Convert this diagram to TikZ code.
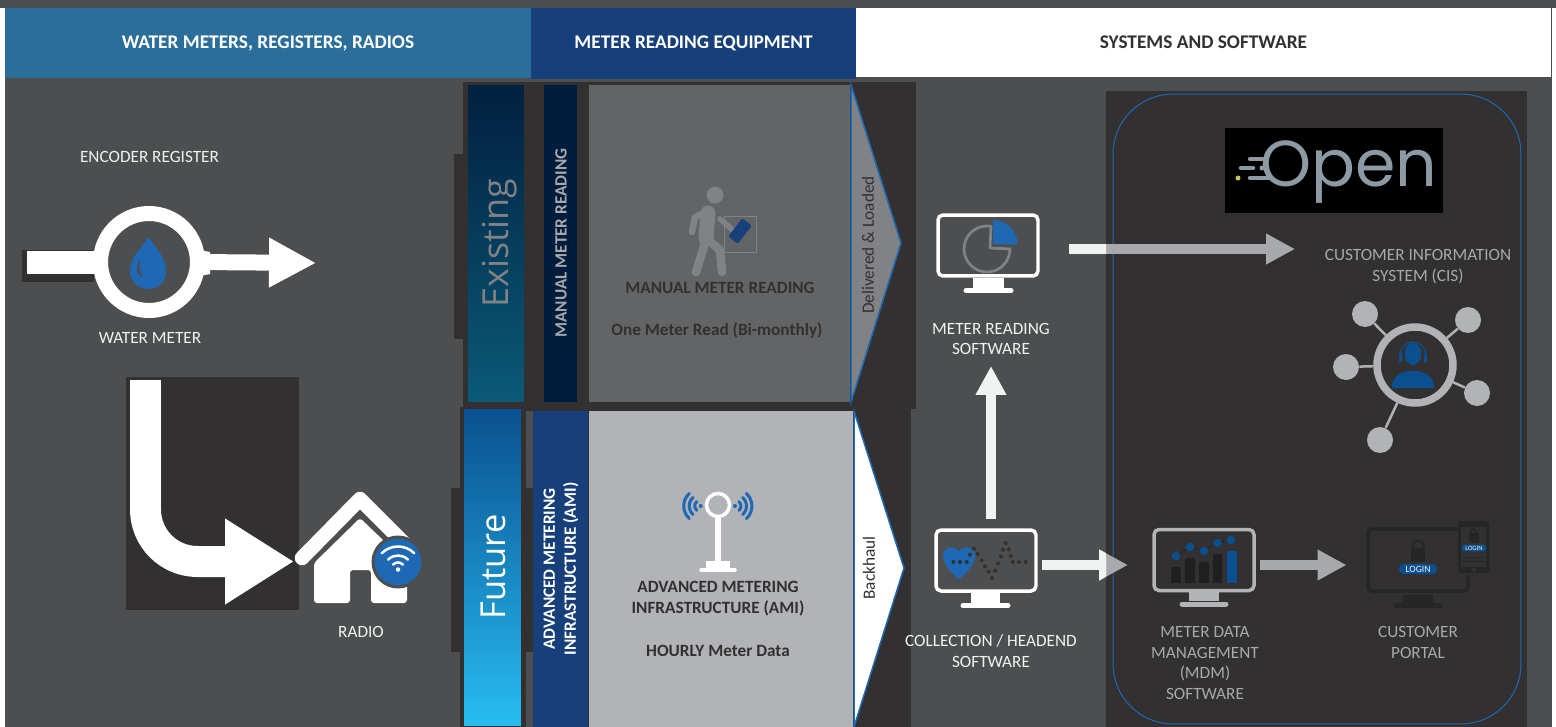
\documentclass[tikz,border=0pt]{standalone}
\usepackage{fontspec}
\usepackage{xcolor}
\setmainfont{Carlito}
\newfontfamily\openfont{Poppins}
\newfontfamily\thinfont{Open Sans}
\usetikzlibrary{arrows.meta, positioning, calc}
\definecolor{slate-bg}{HTML}{4D4E50}
\definecolor{panel-dark}{HTML}{323031}
\definecolor{water-blue}{HTML}{2B6E9A}
\definecolor{navy-blue}{HTML}{173F79}
\definecolor{icon-blue}{HTML}{1F69B4}
\definecolor{deep-blue}{HTML}{0A5090}
\definecolor{soft-white}{HTML}{F1F2F2}
\definecolor{mid-gray}{HTML}{808285}
\definecolor{light-gray}{HTML}{B1B3B6}
\definecolor{arrow-gray}{HTML}{A7A9AC}
\definecolor{box-gray}{HTML}{636466}
\definecolor{portal-dark}{HTML}{262627}
\definecolor{logo-gray}{HTML}{8D9AA3}
\definecolor{old-top}{HTML}{02203F}
\definecolor{old-bottom}{HTML}{0A5A78}
\definecolor{old-bar}{HTML}{021C3C}
\definecolor{new-bottom}{HTML}{27BDF0}

\begin{document}
\begin{tikzpicture}[
    x=0.02cm, y=-0.02cm,
    box/.style={rectangle, inner sep=0pt, outer sep=0pt},
    banner/.style={box, minimum height=1.4cm, font=\fontsize{11}{12}\selectfont\bfseries},
    caption/.style={inner sep=0pt, align=center, text=soft-white, font=\fontsize{9.8}{11.8}\selectfont},
    graycaption/.style={caption, text=arrow-gray},
    boxtext/.style={inner sep=0pt, align=center, text=panel-dark, font=\fontsize{9.8}{12}\selectfont\bfseries},
    sidetext/.style={inner sep=0pt, align=center, rotate=90, font=\fontsize{9.8}{12}\selectfont\bfseries},
    screen/.style={box, draw=white, line width=0.7mm, rounded corners=0.1cm, minimum width=2cm, minimum height=1.22cm},
    blockarrow/.style={line width=2.1mm, -{Triangle[length=5.8mm,width=5.8mm]}},
    blueline/.style={draw=icon-blue, line width=0.6mm, line cap=round}
]
\path[fill=white, use as bounding box] (0,0) rectangle (1556,727);
\node[box, fill=slate-bg, minimum width=30.94cm, minimum height=14.54cm] (body) at (778.5,363.5) {};
\fill[slate-bg] (0,0) rectangle (1556,8);

% Banners
\node[banner, fill=water-blue, text=white, minimum width=10.52cm] (metersbanner) at (268,43) {WATER METERS, REGISTERS, RADIOS};
\node[banner, fill=navy-blue, text=white, minimum width=6.5cm, minimum height=1.42cm] (equipbanner) at (693.5,43.5) {METER READING EQUIPMENT};
\node[banner, fill=white, text=panel-dark, minimum width=13.9cm, minimum height=1.38cm] (systemsbanner) at (1203.5,42.5) {SYSTEMS AND SOFTWARE};

% Water meter
\node[caption] (encoderlabel) at (149.5,157) {ENCODER REGISTER};
\node[box, fill=panel-dark, minimum width=1.44cm, minimum height=0.64cm] (pipeshadow) at (58,266) {};
\node[box, fill=white, minimum width=1.4cm, minimum height=0.46cm] (pipe) at (62,262.5) {};
\node[circle, draw=white, line width=3mm, inner sep=0pt, outer sep=0pt, minimum size=1.94cm] (meterring) at (149,262) {};
\fill[white] (200,250) -- (210,252) -- (210,274) -- (200,276) -- cycle;
\coordinate (meterout) at (316,263);
\draw[line width=3.2mm, white, -{Triangle[length=9.4mm,width=9.4mm]}] (meterring.east) -- (meterout);
\fill[icon-blue] (148.5,237) .. controls (140,250) and (130,258) .. (130,271) .. controls (130,283) and (140,289) .. (148.5,289) .. controls (157,289) and (166,283) .. (166,271) .. controls (166,258) and (157,250) .. (148.5,237) -- cycle;
\fill[slate-bg] (140,259) .. controls (135,268) and (136,276) .. (143,277) .. controls (139,272) and (139,266) .. (140,259) -- cycle;
\node[caption] (meterlabel) at (150,338) {WATER METER};

% Radio
\node[box, fill=panel-dark, minimum width=3.46cm, minimum height=4.66cm] (bendbox) at (212.5,493.5) {};
\coordinate (bendstart) at (145.5,380);
\coordinate (bendend) at (294,561.5);
\draw[white, line width=6.2mm, rounded corners=1.04cm, -{Triangle[length=13.8mm,width=16.2mm]}] (bendstart) -- (bendstart |- bendend) -- (bendend);
\fill[white, rounded corners=0.06cm] (360,518) -- (314,563) -- (314,603) -- (350,603) -- (350,570) -- (371,570) -- (371,603) -- (407,603) -- (407,563) -- cycle;
\draw[white, line width=2.9mm, line cap=round, line join=round] (302,558) -- (360,499) -- (412,551);
\node[circle, fill=icon-blue, draw=slate-bg, line width=0.6mm, minimum size=1cm, inner sep=0pt] (wifidisc) at (398,562) {};
\fill[white] (398,569.5) circle[radius=0.045cm];
\foreach \r in {0.14,0.28,0.46}
  \draw[white, line width=0.5mm, line cap=round] ([shift={(45:\r cm)}]398,569.5) arc[start angle=45, end angle=135, radius=\r cm];
\node[caption] (radiolabel) at (361,632) {RADIO};

% Future panel
\node[box, fill=panel-dark, minimum width=0.2cm, minimum height=3.28cm] (futuretab) at (456,570) {};
\node[box, fill=panel-dark, minimum width=9.02cm, minimum height=6.4cm] (futurepanel) at (685.5,567) {};
\fill[slate-bg] (526,411) rectangle (533,488) (526,652) rectangle (533,727);
\node[box, top color=deep-blue, bottom color=new-bottom, minimum width=1.14cm, minimum height=6.34cm] (futurebar) at (492.5,567.5) {};
\node[inner sep=0pt, rotate=90, text=white, font=\fontsize{19.6}{24}\thinfont] (futuretext) at (493,567) {Future};
\node[box, fill=navy-blue, minimum width=1.1cm, minimum height=6.32cm] (amibar) at (560.5,569) {};
\node[sidetext, text=white] (amiside) at (561,569) {ADVANCED METERING\\INFRASTRUCTURE (AMI)};
\node[box, fill=light-gray, minimum width=5.28cm, minimum height=6.32cm] (amibox) at (721,569) {};
\draw[fill=white, draw=icon-blue, line width=0.3mm] (854,411) -- (904,568) -- (854,727) -- cycle;
\node[inner sep=0pt, rotate=90, text=panel-dark, font=\fontsize{9.8}{11}\selectfont] (backhaul) at (869,568) {Backhaul};

% Tower
\node[circle, draw=white, line width=0.7mm, inner sep=0pt, minimum size=0.46cm] (towerhead) at (718,505) {};
\draw[white, line width=1.1mm] (towerhead.south) -- (718,563);
\fill[white] (706,561) rectangle (730,569);
\draw[white, line width=0.7mm, line cap=round] (701,570) -- (735,570);
\foreach \c/\s in {700.7/180,735/0} {
  \fill[icon-blue] (\c,506) circle[radius=0.04cm];
  \foreach \r in {0.12,0.23,0.34}
    \draw[blueline] ([shift={(\s-48:\r cm)}]\c,506) arc[start angle=\s-48, end angle=\s+48, radius=\r cm];
}
\node[boxtext, text=panel-dark] (amititle) at (718,598.5) {ADVANCED METERING\\INFRASTRUCTURE (AMI)};
\node[boxtext] (amirate) at (718,651) {HOURLY Meter Data};

% Existing panel
\node[box, fill=panel-dark, minimum width=0.2cm, minimum height=3.7cm] (existingtab) at (459,246.5) {};
\node[box, fill=panel-dark, minimum width=9.06cm, minimum height=6.54cm] (existingpanel) at (689.5,245.5) {};
\node[box, top color=old-top, bottom color=old-bottom, minimum width=1.12cm, minimum height=6.34cm] (existingbar) at (496,243.5) {};
\node[inner sep=0pt, rotate=90, text=mid-gray, font=\fontsize{20.4}{24}\thinfont] (existingtext) at (500,243) {Existing};
\node[box, fill=old-bar, minimum width=0.66cm, minimum height=6.34cm] (manualbar) at (560.5,243.5) {};
\node[sidetext, text=arrow-gray] (manualside) at (561,243) {MANUAL METER READING};
\node[box, fill=box-gray, minimum width=5.22cm, minimum height=6.34cm] (manualbox) at (719.5,243.5) {};
\draw[fill=mid-gray, draw=icon-blue, line width=0.3mm] (851,85) -- (901,243) -- (851,402) -- cycle;
\node[inner sep=0pt, rotate=90, text=panel-dark, font=\fontsize{9.8}{11}\selectfont] (delivered) at (868,245) {Delivered \& Loaded};

% Walker
\fill[mid-gray] (715,195) circle[radius=0.17cm];
\draw[mid-gray, line width=1.1mm, line cap=round, line join=round] (720,219) -- (736,233);
\draw[mid-gray, line width=1.3mm, line cap=round, line join=round] (711,210) -- (695,217) -- (692,232);
\draw[mid-gray, line width=3mm, line cap=round, line join=round] (708,213) -- (706,238);
\draw[mid-gray, line width=1.7mm, line cap=round, line join=round] (705,243) -- (696,272);
\draw[mid-gray, line width=1.7mm, line cap=round, line join=round] (708,240) -- (720,250) -- (722,272);
\draw[mid-gray, line width=0.1mm] (724,216) rectangle (756,252);
\node[box, fill=navy-blue, rounded corners=0.03cm, rotate=52, minimum width=0.46cm, minimum height=0.24cm] (handset) at (740,231) {};
\node[boxtext] (manualtitle) at (720,288) {MANUAL METER READING};
\node[boxtext] (manualrate) at (717,330) {One Meter Read (Bi-monthly)};

% Systems panel
\node[box, fill=panel-dark, minimum width=8.42cm, minimum height=12.72cm] (systemspanel) at (1316.5,409) {};
\node[box, draw=icon-blue, line width=0.2mm, rounded corners=1.2cm, minimum width=8.16cm, minimum height=12.6cm] (systemsframe) at (1317,409) {};

% Open logo
\node[box, fill=black, minimum width=4.36cm, minimum height=1.7cm] (logobox) at (1334,170.5) {};
\node[inner sep=0pt, anchor=base west, text=logo-gray, font=\fontsize{37}{40}\openfont] (logotext) at (1260,186) {Open};
\draw[logo-gray, line width=0.9mm, line cap=round] (1250,159) -- (1262,159) (1241,168) -- (1253,168) (1250,178) -- (1270,178);
\fill[logo-gray] (1262,168) circle[radius=0.05cm];
\fill[yellow!50!gray] (1238,178) circle[radius=0.05cm];

% Meter reading software
\node[screen] (readscreen) at (988,245.5) {};
\fill[white] (973,278) rectangle (1004,288);
\draw[white, line width=1mm, line cap=round] (966,290.5) -- (1011,290.5);
\draw[mid-gray, line width=0.55mm, line join=round] ([shift={(80:0.46cm)}]987,249) arc[start angle=80, end angle=360, radius=0.46cm] -- (990,248) -- cycle;
\fill[icon-blue, line join=round] (993,244) -- (993,220) arc[start angle=90, end angle=0, radius=0.49cm] -- cycle;
\node[caption] (readlabel) at (991,339) {METER READING\\SOFTWARE};

% Collection software
\node[screen] (collectscreen) at (986,560.5) {};
\fill[white] (971,593) rectangle (1000,603);
\draw[white, line width=1mm, line cap=round] (963,605.5) -- (1008,605.5);
\fill[icon-blue] (959,579) .. controls (950,572) and (943,563) .. (943,556) .. controls (943,547) and (955,544) .. (959,552) .. controls (963,544) and (975,547) .. (975,556) .. controls (975,563) and (968,572) .. (959,579) -- cycle;
\foreach \a/\b in {953.3/562,960/562,966.7/562,970/554.7,974/548.7,977.7/554,981.7/560.3,985/566.3,988.7/571.7,992/578,995.3/570.7,998/563.7,1001/556.3,1003/549.7,1005.7/543,1008.7/549.3,1010.7/556,1012.7/562,1019/562,1025.7/562}
  \fill[panel-dark] (\a,\b) circle[radius=0.04cm];
\node[caption] (collectlabel) at (991,651) {COLLECTION / HEADEND\\SOFTWARE};

% Meter data management
\node[screen, draw=light-gray] (mdmscreen) at (1204,560) {};
\fill[light-gray] (1189,592) rectangle (1219,601);
\draw[light-gray, line width=1mm, line cap=round] (1182,604) -- (1226,604);
\foreach \a/\b/\h in {1170.5/567/1181,1185/558/1195,1199/562/1209,1213/554/1222}
  \fill[portal-dark!85!black] (\a,\b) rectangle (\h,583);
\fill[deep-blue] (1226.5,551) rectangle (1237,583);
\draw[portal-dark, line width=0.2mm] (1176,556) -- (1190,547) -- (1204,551) -- (1217.5,543) -- (1231,540);
\foreach \a/\b in {1176/556,1190/547,1204/551,1217.5/543,1231/540}
  \fill[deep-blue] (\a,\b) circle[radius=0.085cm];
\node[graycaption] (mdmlabel) at (1205,663) {METER DATA\\MANAGEMENT\\(MDM)\\SOFTWARE};

% Customer portal
\draw[portal-dark, line width=0.7mm, rounded corners=0.08cm] (1457,529) -- (1368,529) -- (1368,591) -- (1468,591) -- (1468,575);
\fill[portal-dark] (1403,595) rectangle (1433,603);
\draw[portal-dark, line width=1mm, line cap=round] (1396,605.5) -- (1440,605.5);
\draw[portal-dark, line width=0.5mm] (1412.5,548) -- (1412.5,546) arc[start angle=180, end angle=0, radius=0.11cm] -- (1423.5,548);
\fill[portal-dark] (1411,548) rectangle (1425,562);
\node[box, fill=deep-blue, rounded corners=0.09cm, minimum width=0.76cm, minimum height=0.2cm, text=soft-white, font=\fontsize{5.5}{6}\selectfont] (loginpill) at (1418,569) {LOGIN};
\node[box, fill=portal-dark, rounded corners=0.06cm, minimum width=0.62cm, minimum height=1.04cm] (phone) at (1473.5,547) {};
\fill[panel-dark] (1461,527) rectangle (1486,567);
\draw[portal-dark, line width=0.3mm] (1471,533) -- (1471,531) arc[start angle=180, end angle=0, radius=0.04cm] -- (1477,533);
\fill[portal-dark] (1469,533) rectangle (1479,543);
\node[box, fill=deep-blue, rounded corners=0.06cm, minimum width=0.5cm, minimum height=0.13cm, text=soft-white, font=\fontsize{3.8}{4}\selectfont] (phonepill) at (1474,548) {LOGIN};
\draw[portal-dark, line width=0.15mm] (1463,557.5) -- (1484,557.5) (1463,561.5) -- (1484,561.5);
\fill[panel-dark] (1474,570) circle[radius=0.05cm];
\node[graycaption] (portallabel) at (1418,642.5) {CUSTOMER\\PORTAL};

% Customer information system
\node[graycaption] (cislabel) at (1418,266.5) {CUSTOMER INFORMATION\\SYSTEM (CIS)};
\node[circle, draw=light-gray, line width=1.5mm, inner sep=0pt, minimum size=1.52cm] (cishub) at (1415,365) {};
\foreach \a/\b/\n in {1365/314/hubna,1468/320/hubnb,1346/367/hubw,1477/393/hube,1380/440/hubs} {
  \node[circle, fill=light-gray, inner sep=0pt, minimum size=0.52cm] (\n) at (\a,\b) {};
  \draw[light-gray, line width=0.5mm] (\n) -- (cishub);
}
\fill[deep-blue] (1413,354) ellipse[x radius=0.17cm, y radius=0.22cm];
\draw[deep-blue, line width=0.25mm] ([shift={(180:0.26cm)}]1413,355) arc[start angle=180, end angle=0, radius=0.26cm];
\fill[deep-blue] (1399,353) rectangle (1402,362) (1424,353) rectangle (1427,362);
\fill[deep-blue] (1392,388) .. controls (1392,378) and (1397,374) .. (1408,371) -- (1418,371) .. controls (1429,374) and (1434,378) .. (1434,388) -- cycle;

% Connectors
\coordinate (readout) at (1069,249);
\coordinate (cisin) at (1295,249);
\coordinate (collectout) at (1042,565);
\coordinate (mdmin) at (1128,565);
\coordinate (mdmout) at (1260,565);
\coordinate (portalin) at (1346.5,565);
\coordinate (collectup) at (991,519);
\coordinate (readin) at (991,366);
\draw[blockarrow, soft-white] (collectup) -- (readin);
\draw[blockarrow, arrow-gray] (readout) -- (cisin);
\draw[blockarrow, arrow-gray] (collectout) -- (mdmin);
\draw[blockarrow, arrow-gray] (mdmout) -- (portalin);
\begin{scope}
\clip (5,0) rectangle (1106,727);
\draw[blockarrow, soft-white] (readout) -- (cisin);
\draw[blockarrow, soft-white] (collectout) -- (mdmin);
\end{scope}

\end{tikzpicture}
\end{document}
